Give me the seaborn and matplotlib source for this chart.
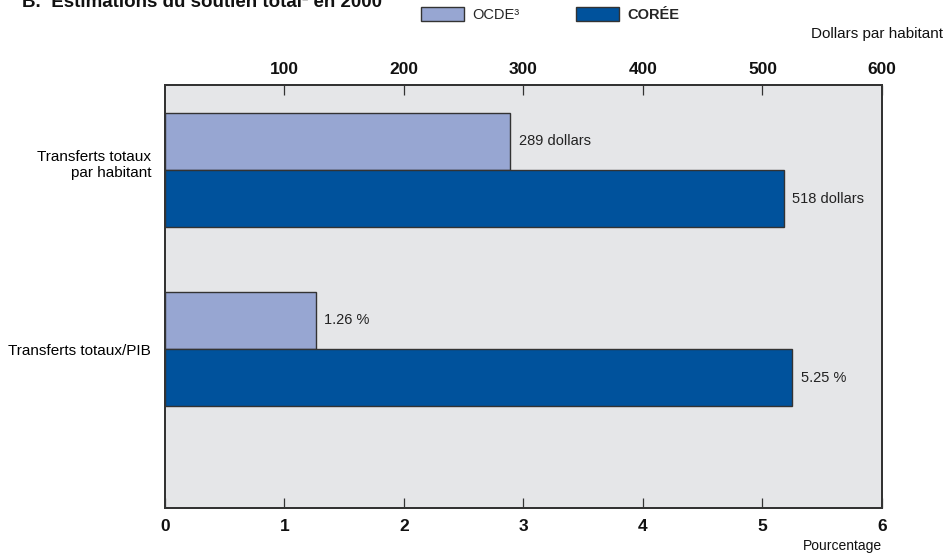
import matplotlib
matplotlib.use("Agg")
import matplotlib.pyplot as plt
import matplotlib.transforms as mtransforms
from matplotlib.patches import Patch
import seaborn as sns
import pandas as pd

categories = ["Transferts totaux\npar habitant", "Transferts totaux/PIB"]
series = ["OCDE³", "CORÉE"]
dollars_values = [289, 518]      # OCDE, CORÉE
percent_values = [1.26, 5.25]    # OCDE, CORÉE
dollar_labels = ["289 dollars", "518 dollars"]
percent_labels = ["1.26 %", "5.25 %"]
top_ticks = [100, 200, 300, 400, 500, 600]
bottom_ticks = [0, 1, 2, 3, 4, 5, 6]

colors = {"OCDE³": "#97a6d2", "CORÉE": "#00529c"}

df_dollars = pd.DataFrame({"categorie": categories[0], "serie": series, "valeur": dollars_values})
df_percent = pd.DataFrame({"categorie": categories[1], "serie": series, "valeur": percent_values})

sns.set_theme(style="white")
plt.rcParams["font.family"] = ["Liberation Sans", "DejaVu Sans"]

fig = plt.figure(figsize=(9.53, 5.53), dpi=100)
ax = fig.add_axes([0.1731, 0.0814, 0.7524, 0.7649])
ax_top = ax.twiny()

sns.barplot(data=df_percent, y="categorie", x="valeur", hue="serie", order=categories,
            hue_order=series, palette=colors, orient="h", width=0.64, ax=ax,
            edgecolor="#333333", linewidth=1.0, legend=False, saturation=1)
sns.barplot(data=df_dollars, y="categorie", x="valeur", hue="serie", order=categories,
            hue_order=series, palette=colors, orient="h", width=0.64, ax=ax_top,
            edgecolor="#333333", linewidth=1.0, legend=False, saturation=1)

ax.set_facecolor("#e5e6e8")
ax.set_xlim(0, 6)
ax_top.set_xlim(0, 600)

# value labels next to the bar ends
for labels, target in ((percent_labels, ax), (dollar_labels, ax_top)):
    bars = [p for p in target.patches if p.get_width() > 0]
    bars.sort(key=lambda p: p.get_y())
    for bar, lab in zip(bars, labels):
        target.annotate(lab, (bar.get_width(), bar.get_y() + bar.get_height() / 2),
                        xytext=(6, 0), textcoords="offset points",
                        va="center", ha="left", fontsize=10.5, color="#222222")

ax.set_xticks(bottom_ticks)
ax.set_xticklabels([str(t) for t in bottom_ticks], fontsize=12.5, fontweight="bold",
                   color="#111111")
ax_top.set_xticks(top_ticks)
ax_top.set_xticklabels([str(t) for t in top_ticks], fontsize=12.5, fontweight="bold",
                       color="#111111")
ax.tick_params(axis="x", direction="in", length=7, width=0.9, color="#333333", pad=8)
ax_top.tick_params(axis="x", direction="in", length=7, width=0.9, color="#333333", pad=6)
ax.set_yticks([0, 1])
ax.set_yticklabels(categories, fontsize=11, ha="right", color="#000000")
ax.tick_params(axis="y", length=0, pad=10, labelleft=True)
ax_top.tick_params(axis="y", length=0)
ax.set_ylabel("")
ax.set_xlabel("")
ax_top.set_xlabel("")
ax_top.set_ylabel("")
ax.set_ylim(1.888, -0.475)

# lift the two-line category label a little
first = ax.get_yticklabels()[0]
first.set_transform(first.get_transform() +
                    mtransforms.ScaledTranslation(0, 8 / 100, fig.dpi_scale_trans))

for a in (ax, ax_top):
    for s in a.spines.values():
        s.set_color("#333333")
        s.set_linewidth(1.4)
        s.set_visible(True)

fig.text(0.9255, 0.0, "Pourcentage", ha="right", va="bottom", fontsize=10,
         color="#111111")
fig.text(0.99, 0.925, "Dollars par habitant", ha="right", va="bottom", fontsize=11,
         color="#111111")
fig.text(0.023, 0.995, "B.  Estimations du soutien total² en 2000", ha="left", va="center",
         fontsize=13.5, fontweight="bold", color="#111111")

handles = [Patch(facecolor=colors[s], edgecolor="#333333", linewidth=1.0) for s in series]
leg = fig.legend(handles, series, loc="center left", bbox_to_anchor=(0.442, 0.974),
                 ncol=2, frameon=False, fontsize=10.5, handlelength=2.9, handleheight=1.1,
                 columnspacing=3.9, handletextpad=0.6, borderaxespad=0, borderpad=0)
leg.get_texts()[1].set_fontweight("bold")

fig.savefig("out.png", dpi=100)
